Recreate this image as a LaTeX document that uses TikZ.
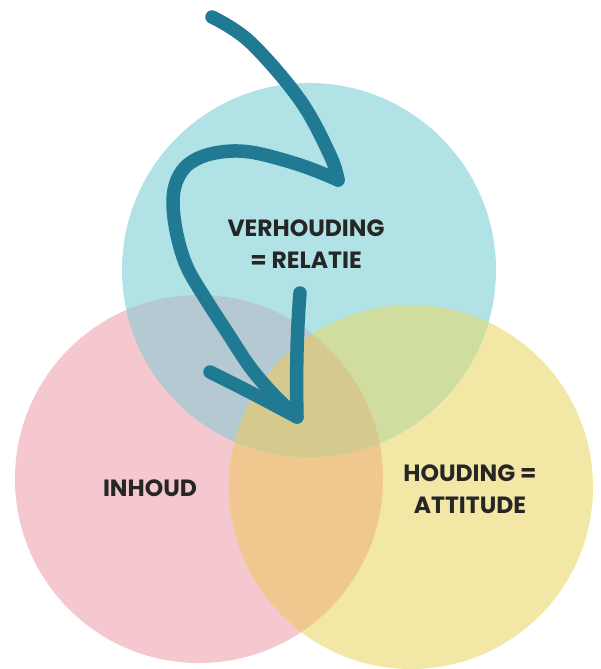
\documentclass[tikz,border=0pt]{standalone}
\usepackage{fontspec}
\setmainfont{Poppins}
\definecolor{cblue}{HTML}{B0E2E6}
\definecolor{cpink}{HTML}{F4C8CE}
\definecolor{cyell}{HTML}{F3E7A5}
\definecolor{cbp}{HTML}{B4C9D2}
\definecolor{cby}{HTML}{CFDD9F}
\definecolor{cpy}{HTML}{F0C88F}
\definecolor{cbpy}{HTML}{D6C98D}
\definecolor{carrow}{HTML}{207A93}
\tikzset{
  lbl/.style={font=\fontsize{23.5}{32}\selectfont\bfseries, text=black!85, align=center, inner sep=0pt},
  arrowline/.style={draw=carrow, line width=13.5pt, line cap=round, line join=round}
}
\begin{document}
\begin{tikzpicture}[x=1pt,y=-1pt]
\useasboundingbox (0,0) rectangle (600,669);
\fill[white] (0,0) rectangle (600,669);
\coordinate (B) at (309,270);
\coordinate (P) at (199,479);
\coordinate (Y) at (411,487);
\def\rB{187}\def\rP{184}\def\rY{182}
\fill[cpink] (P) circle[radius=\rP];
\fill[cyell] (Y) circle[radius=\rY];
\begin{scope}
  \clip (P) circle[radius=\rP];
  \fill[cpy] (Y) circle[radius=\rY];
\end{scope}
\fill[cblue] (B) circle[radius=\rB];
\begin{scope}
  \clip (B) circle[radius=\rB];
  \fill[cbp] (P) circle[radius=\rP];
  \fill[cby] (Y) circle[radius=\rY];
  \clip (P) circle[radius=\rP];
  \fill[cbpy] (Y) circle[radius=\rY];
\end{scope}
% labels
\node[lbl] (rel) at (306,244) {VERHOUDING\\= RELATIE};
\node[lbl] (inh) at (150,488) {INHOUD};
\node[lbl] (att) at (470,489) {HOUDING =\\ATTITUDE};
% arrow
\coordinate (a0) at (212,17);
\coordinate (turn) at (338,180);
\coordinate (tip) at (297,417);
\coordinate (armL) at (210,372);
\coordinate (armR) at (300,293);
\draw[arrowline] plot[smooth, tension=0.6] coordinates {(a0) (250,42) (300,100) (330,155) (turn)};
\draw[arrowline] plot[smooth, tension=0.6] coordinates {(turn) (300,165) (250,152) (215,153) (190,163) (177,180) (173,203) (177,235) (187,267) (205,298) (227,332) (250,367) (273,394) (tip)};
\draw[arrowline] (armL) .. controls (250,392) .. (tip) .. controls (296,370) and (297,330) .. (armR);
\end{tikzpicture}
\end{document}
